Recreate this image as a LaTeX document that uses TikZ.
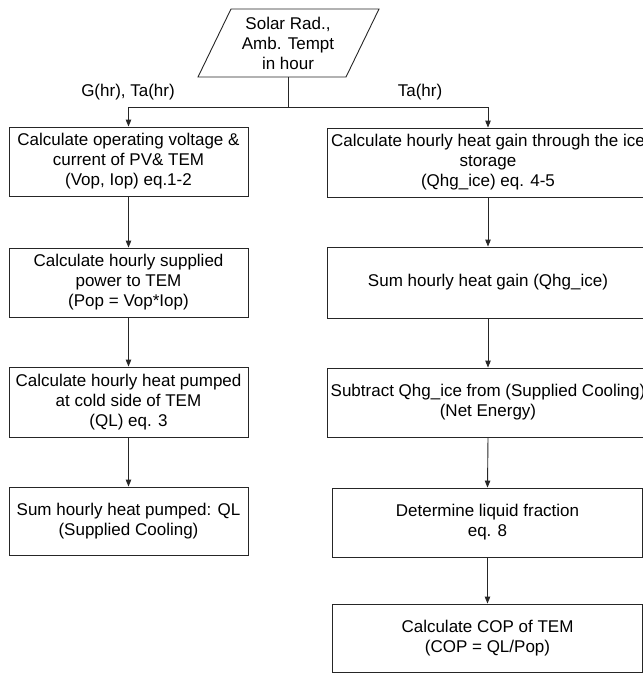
\documentclass[tikz,border=0pt]{standalone}
\usepackage{fontspec}
\setmainfont{Liberation Sans}
\usetikzlibrary{arrows.meta}
\begin{document}
\begin{tikzpicture}[x=1pt,y=-1pt,
  ln/.style={draw=black!85, line width=0.9pt},
  arr/.style={ln, -{Triangle[width=5.5pt,length=7pt]}},
  txt/.style={inner sep=0pt, align=center, font=\fontsize{17}{20}\selectfont},
  box/.style={txt, draw=black!85, line width=0.9pt, minimum height=69pt},
  lbox/.style={box, minimum width=239pt},
  rbox/.style={box, minimum width=322pt},
  sbox/.style={box, minimum width=310pt}]
\useasboundingbox (0,0) rectangle (643,673);
% input parallelogram
\draw[ln] (231,9) -- (379,9) -- (346,77) -- (198,77) -- cycle;
\node[txt, minimum height=68pt] (src) at (288,43) {Solar Rad.,\\Amb. Tempt\\in hour};
\coordinate (j) at (288,107);
\node[txt] (lab1) at (128,92) {G(hr), Ta(hr)};
\node[txt] (lab2) at (420,92) {Ta(hr)};
% left column
\node[lbox] (L1) at (128.5,161.5) {Calculate operating voltage \&\\current of PV\& TEM\\(Vop, Iop) eq.1-2};
\node[lbox] (L2) at (128.5,282.5) {Calculate hourly supplied\\power to TEM\\(Pop = Vop*Iop)};
\node[lbox, minimum height=70pt] (L3) at (128.5,402) {Calculate hourly heat pumped\\at cold side of TEM\\(QL) eq. 3};
\node[lbox, minimum height=68pt] (L4) at (128.5,521) {Sum hourly heat pumped: QL\\(Supplied Cooling)};
% right column
\node[rbox] (R1) at (488,162.5) {Calculate hourly heat gain through the ice\\storage\\(Qhg\_ice) eq. 4-5};
\node[rbox, minimum height=71pt] (R2) at (488,282.5) {Sum hourly heat gain (Qhg\_ice)};
\node[rbox] (R3) at (488,402.5) {Subtract Qhg\_ice from (Supplied Cooling)\\(Net Energy)};
\node[sbox] (R4) at (487.5,522.5) {Determine liquid fraction\\eq. 8};
\node[sbox, minimum height=68pt] (R5) at (487.5,638) {Calculate COP of TEM\\(COP = QL/Pop)};
% connectors
\draw[ln] (src.south) -- (j);
\draw[arr] (j) -| (L1.north);
\draw[arr] (j) -| (R1.north);
\draw[arr] (L1) -- (L2);
\draw[arr] (L2) -- (L3);
\draw[arr] (L3) -- (L4);
\draw[arr] (R1) -- (R2);
\draw[arr] (R2) -- (R3);
\draw[arr] (R3.south) -- (R4.north);
\draw[arr] (R4) -- (R5);
\end{tikzpicture}
\end{document}
